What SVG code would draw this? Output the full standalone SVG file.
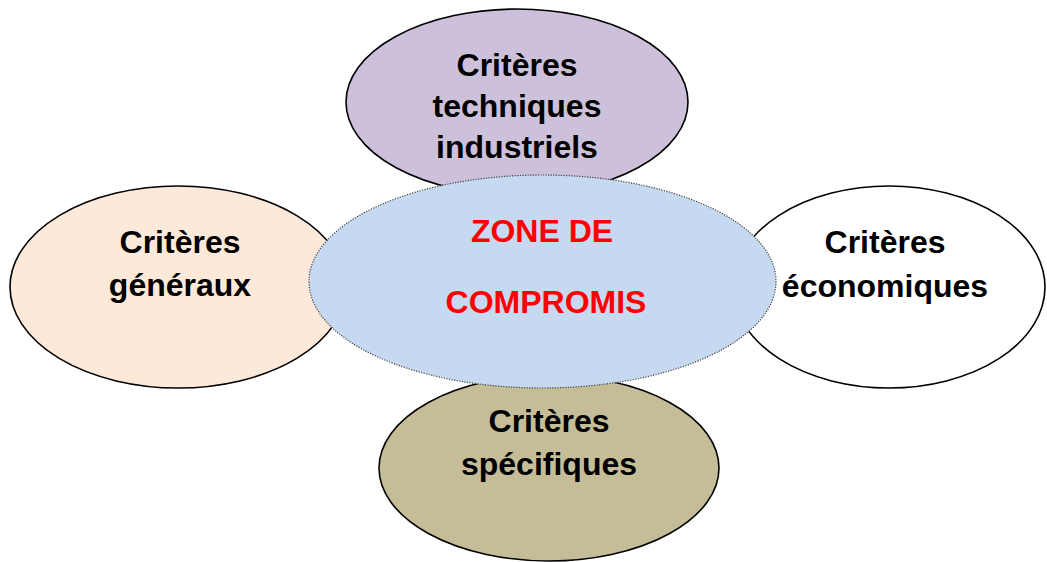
<svg xmlns="http://www.w3.org/2000/svg" width="1047" height="562" viewBox="0 0 1047 562">
<style>
.outer{stroke:#000;stroke-width:1.6}
.lbl{font-family:"Liberation Sans",Arial,sans-serif;font-weight:bold;font-size:32px;fill:#000;text-anchor:middle}
.red{fill:#FF0000}
</style>
<rect width="1047" height="562" fill="#FFFFFF"/>
<g id="connectors"/>
<g id="node-techniques">
<ellipse class="outer" cx="517" cy="102" rx="171" ry="93" fill="#CCC0DA"/>
<text class="lbl" x="517" y="76">Critères</text>
<text class="lbl" x="517" y="117">techniques</text>
<text class="lbl" x="517" y="158">industriels</text>
</g>
<g id="node-generaux">
<ellipse class="outer" cx="178" cy="287" rx="168" ry="101" fill="#FDE9D9"/>
<text class="lbl" x="180" y="253">Critères</text>
<text class="lbl" x="180" y="296">généraux</text>
</g>
<g id="node-economiques">
<ellipse class="outer" cx="889" cy="287" rx="156" ry="101" fill="#FFFFFF"/>
<text class="lbl" x="885" y="253">Critères</text>
<text class="lbl" x="885" y="297">économiques</text>
</g>
<g id="node-specifiques">
<ellipse class="outer" cx="549" cy="468" rx="170" ry="93" fill="#C4BD97"/>
<text class="lbl" x="549" y="432">Critères</text>
<text class="lbl" x="549" y="475">spécifiques</text>
</g>
<g id="node-compromis">
<ellipse cx="542.5" cy="281.5" rx="233.5" ry="106.5" fill="#C6D9F1" stroke="#404040" stroke-width="1.2" stroke-dasharray="1.2,1.4"/>
<text class="lbl red" x="542" y="242">ZONE DE</text>
<text class="lbl red" x="546" y="313">COMPROMIS</text>
</g>
</svg>
